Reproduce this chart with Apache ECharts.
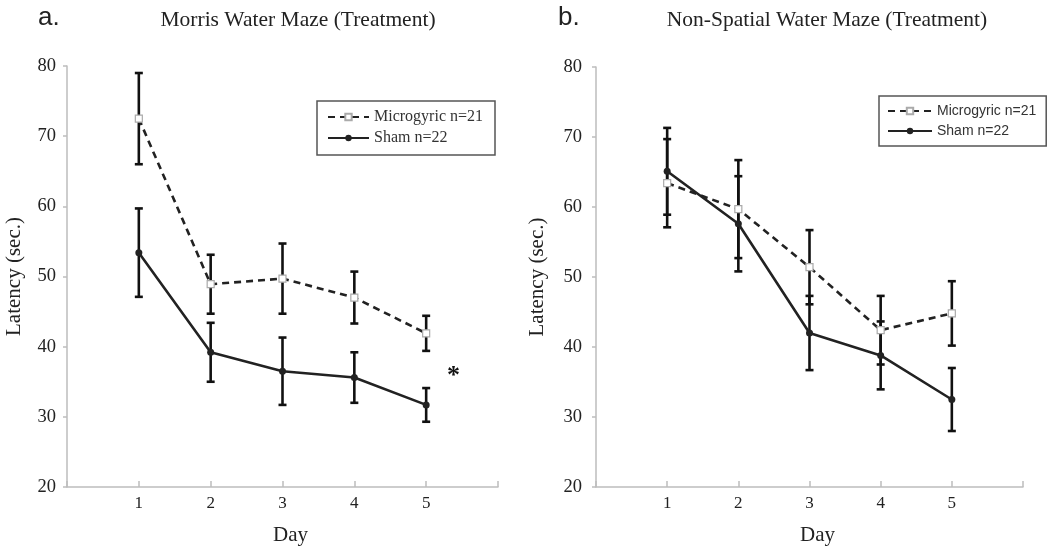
<!DOCTYPE html>
<html>
<head>
<meta charset="utf-8">
<script src="https://cdn.jsdelivr.net/npm/echarts@6/dist/echarts.min.js"></script>
<style>html,body{margin:0;padding:0;background:#fff;}#c{width:1050px;height:551px;}</style>
</head>
<body>
<div id="c"></div>
<script>
// ---- data ----
const days = [1, 2, 3, 4, 5];
const xTickLabels = ['', '1', '2', '3', '4', '5', ''];
const yTicks = [20, 30, 40, 50, 60, 70, 80];
const seriesNames = ['Microgyric n=21', 'Sham n=22'];
// a. Morris Water Maze
const mwmMicro = [72.5, 48.9, 49.7, 47.0, 41.9];
const mwmMicroErr = [6.5, 4.2, 5.0, 3.7, 2.5];
const mwmSham = [53.4, 39.2, 36.5, 35.6, 31.7];
const mwmShamErr = [6.3, 4.2, 4.8, 3.6, 2.4];
// b. Non-Spatial Water Maze
const nsMicro = [63.4, 59.7, 51.4, 42.4, 44.8];
const nsMicroErr = [6.3, 7.0, 5.3, 4.9, 4.6];
const nsSham = [65.1, 57.6, 42.0, 38.8, 32.5];
const nsShamErr = [6.2, 6.8, 5.3, 4.85, 4.5];
const sigMark = { day: 5.38, value: 35.8, text: '*' };

const serif = '"Liberation Serif", "Times New Roman", serif';
const sans = '"Liberation Sans", Arial, sans-serif';
const axisGray = '#bdbdbd';
const ink = '#222';

function pts(vals) { return days.map((d, i) => [d, vals[i]]); }
function errs(vals, e) { return days.map((d, i) => [d, vals[i] - e[i], vals[i] + e[i]]); }

function errItem(params, api) {
  const x = api.value(0), lo = api.value(1), hi = api.value(2);
  const a = api.coord([x, hi]), b = api.coord([x, lo]);
  const w = 4, st = { stroke: '#111', lineWidth: 2.6 };
  return {
    type: 'group',
    children: [
      { type: 'line', shape: { x1: a[0], y1: a[1], x2: b[0], y2: b[1] }, style: st },
      { type: 'line', shape: { x1: a[0] - w, y1: a[1], x2: a[0] + w, y2: a[1] }, style: st },
      { type: 'line', shape: { x1: b[0] - w, y1: b[1], x2: b[0] + w, y2: b[1] }, style: st }
    ]
  };
}

function xAxis(gi) {
  return {
    type: 'value', gridIndex: gi, min: 0, max: 6, interval: 1,
    name: 'Day', nameLocation: 'middle', nameGap: 38,
    nameTextStyle: { fontFamily: serif, fontSize: 21, color: ink, padding: [0, 0, 0, 16] },
    axisLine: { lineStyle: { color: axisGray, width: 1.5 } },
    axisTick: { inside: true, length: 6, lineStyle: { color: axisGray, width: 1.5 } },
    axisLabel: { formatter: v => xTickLabels[v] || '', fontFamily: serif, fontSize: 17, color: ink, margin: 8 },
    splitLine: { show: false }
  };
}
function yAxis(gi, margin, gap) {
  return {
    type: 'value', gridIndex: gi, min: yTicks[0], max: yTicks[yTicks.length - 1], interval: 10,
    name: 'Latency (sec.)', nameLocation: 'middle', nameGap: gap,
    nameTextStyle: { fontFamily: serif, fontSize: 21, color: ink },
    axisLine: { show: true, lineStyle: { color: axisGray, width: 1.5 } },
    axisTick: { show: true, length: 4, lineStyle: { color: axisGray, width: 1.5 } },
    axisLabel: { fontFamily: serif, fontSize: 18.5, color: ink, margin: margin },
    splitLine: { show: false }
  };
}

const microLine = { color: ink, width: 2.6, type: [7, 5] };
const shamLine = { color: ink, width: 2.6 };
function microSeries(gi, vals) {
  return {
    name: seriesNames[0], type: 'line', xAxisIndex: gi, yAxisIndex: gi, data: pts(vals),
    symbol: 'rect', symbolSize: 7, z: 4,
    itemStyle: { color: '#fff', borderColor: '#aaa', borderWidth: 1.2 },
    lineStyle: microLine, emphasis: { disabled: true }
  };
}
function shamSeries(gi, vals) {
  return {
    name: seriesNames[1], type: 'line', xAxisIndex: gi, yAxisIndex: gi, data: pts(vals),
    symbol: 'circle', symbolSize: 7, z: 4,
    itemStyle: { color: ink }, lineStyle: shamLine, emphasis: { disabled: true }
  };
}
function errSeries(gi, vals, e) {
  return {
    type: 'custom', xAxisIndex: gi, yAxisIndex: gi, data: errs(vals, e),
    encode: { x: 0, y: [1, 2] }, renderItem: errItem, z: 3, silent: true
  };
}

const leftShamSeries = shamSeries(0, mwmSham);
leftShamSeries.markPoint = {
  symbol: 'circle', symbolSize: 1, itemStyle: { color: 'rgba(0,0,0,0)' },
  label: { show: true, formatter: sigMark.text, fontFamily: serif, fontSize: 26, fontWeight: 'bold', color: '#111', position: 'inside' },
  data: [{ coord: [sigMark.day, sigMark.value] }]
};

const chart = echarts.init(document.getElementById('c'), null, { renderer: 'canvas' });
chart.setOption({
  animation: false,
  backgroundColor: '#fff',
  title: [
    { text: 'a.', left: 33, top: 0, textStyle: { fontFamily: sans, fontSize: 26, fontWeight: 'normal', color: ink } },
    { text: 'b.', left: 553, top: 0, textStyle: { fontFamily: sans, fontSize: 26, fontWeight: 'normal', color: ink } },
    { text: 'Morris Water Maze (Treatment)', left: 293, top: 4, textAlign: 'center', textStyle: { fontFamily: serif, fontSize: 21.5, fontWeight: 'normal', color: ink } },
    { text: 'Non-Spatial Water Maze (Treatment)', left: 822, top: 4, textAlign: 'center', textStyle: { fontFamily: serif, fontSize: 21.5, fontWeight: 'normal', color: ink } }
  ],
  legend: [
    {
      data: seriesNames, orient: 'vertical', left: 317, top: 101,
      padding: [8, 12, 9, 10], itemGap: 5, itemWidth: 41, itemHeight: 8,
      borderColor: '#555', borderWidth: 1.5, selectedMode: false,
      textStyle: { fontFamily: serif, fontSize: 16, color: '#333' }
    },
    {
      data: seriesNames, orient: 'vertical', left: 879, top: 96,
      padding: [8, 10, 8, 8], itemGap: 6, itemWidth: 44, itemHeight: 8,
      borderColor: '#555', borderWidth: 1.5, selectedMode: false,
      textStyle: { fontFamily: sans, fontSize: 14, color: '#333' }
    }
  ],
  grid: [
    { left: 67, top: 66, width: 431, height: 423, containLabel: false },
    { left: 596, top: 67, width: 427, height: 426, containLabel: false }
  ],
  xAxis: [xAxis(0), xAxis(1)],
  yAxis: [yAxis(0, 11, 42), yAxis(1, 14, 48)],
  series: [
    errSeries(0, mwmMicro, mwmMicroErr),
    errSeries(0, mwmSham, mwmShamErr),
    microSeries(0, mwmMicro),
    leftShamSeries,
    errSeries(1, nsMicro, nsMicroErr),
    errSeries(1, nsSham, nsShamErr),
    microSeries(1, nsMicro),
    shamSeries(1, nsSham)
  ]
});
</script>
</body>
</html>
